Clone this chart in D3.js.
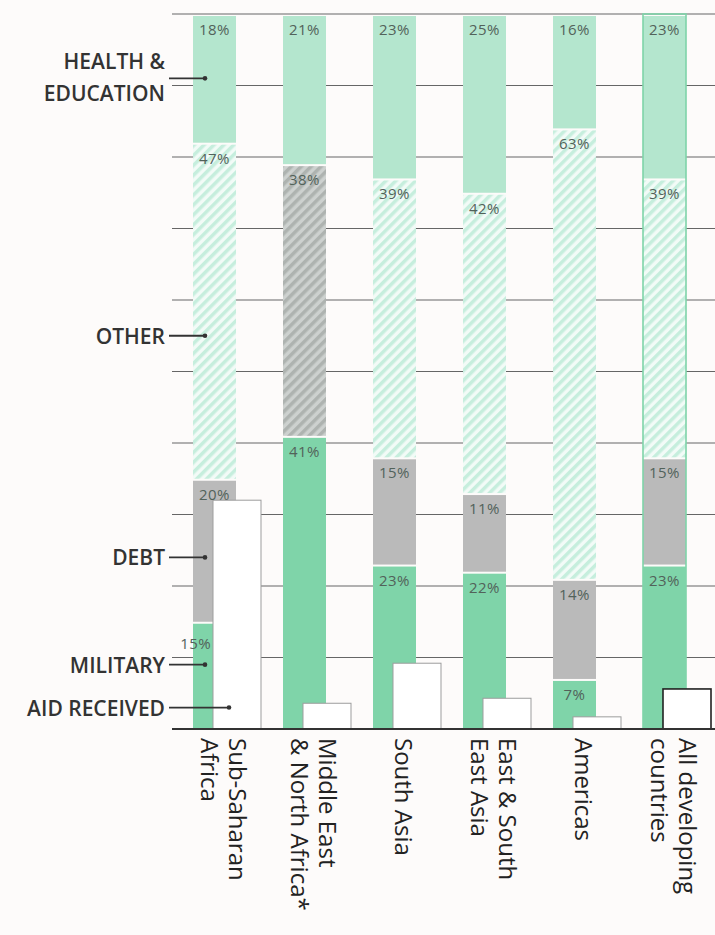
<!DOCTYPE html>
<html>
<head>
<meta charset="utf-8">
<script src="https://cdn.jsdelivr.net/npm/d3@7"></script>
<style>
  body { margin: 0; background: #fdfbfa; }
  svg { display: block; font-family: "Open Sans", sans-serif; }
</style>
</head>
<body>
<svg id="chart" width="715" height="935"></svg>
<script>
// regions, bottom labels split in lines
const categories = ["Sub-Saharan Africa", "Middle East & North Africa*", "South Asia",
  "East & South East Asia", "Americas", "All developing countries"];
const labelLines = [["Sub-Saharan", "Africa"], ["Middle East", "& North Africa*"], ["South Asia"],
  ["East & South", "East Asia"], ["Americas"], ["All developing", "countries"]];

// share of spending, % (stacked bottom to top)
const military = [15, 41, 23, 22, 7, 23];
const debt     = [20, 0, 15, 11, 14, 15];
const other    = [47, 38, 39, 42, 63, 39];
const health   = [18, 21, 23, 25, 16, 23];
// aid received, same scale (no labels in the original)
const aid      = [32, 3.6, 9.2, 4.3, 1.7, 5.6];
const otherShade = ["light", "gray", "light", "light", "light", "light"];

const gridTicks = d3.range(10, 101, 10);

// left-hand key: name and where its pointer sits (value on the y scale)
const keyNames = [["HEALTH &", "EDUCATION"], ["OTHER"], ["DEBT"], ["MILITARY"], ["AID RECEIVED"]];
const keyAt    = [91, 55, 24, 9, 3];
const keyIsAid = [false, false, false, false, true];

const svg = d3.select("#chart");
const W = 715;

const x = d3.scaleBand(categories, [193, 733]);
const y = d3.scaleLinear([0, 100], [729, 14]);
const barW = 43, aidOff = 20, aidW = 48, gap = 2;

const rows = categories.map((c, i) => ({
  cat: c, military: military[i], debt: debt[i], other: other[i], health: health[i]
}));
const keys = ["military", "debt", "other", "health"];
const series = d3.stack().keys(keys)(rows);

// hatching
const defs = svg.append("defs");
function hatch(id, base, stripe) {
  const p = defs.append("pattern").attr("id", id)
    .attr("patternUnits", "userSpaceOnUse").attr("width", 7).attr("height", 7)
    .attr("patternTransform", "rotate(45)");
  p.append("rect").attr("width", 7).attr("height", 7).attr("fill", base);
  p.append("rect").attr("width", 3.5).attr("height", 7).attr("fill", stripe);
}
hatch("hatchLight", "#f2fbf7", "#c6eedd");
hatch("hatchGray", "#cdd1cf", "#aeb3b0");

const fills = {
  military: () => "#7fd4a9",
  debt: () => "#bababa",
  other: i => otherShade[i] === "gray" ? "url(#hatchGray)" : "url(#hatchLight)",
  health: () => "#b4e6ce"
};

// grid
svg.append("g").selectAll("line").data(gridTicks).join("line")
  .attr("x1", 172).attr("x2", W)
  .attr("y1", d => y(d)).attr("y2", d => y(d))
  .attr("stroke", "#666").attr("stroke-width", 1.2);

// stacked bars
const gBars = svg.append("g");
series.forEach(s => {
  gBars.selectAll(null).data(s.filter(d => d[1] > d[0])).join("rect")
    .attr("x", d => x(d.data.cat))
    .attr("y", d => y(d[1]) + gap)
    .attr("width", barW)
    .attr("height", d => Math.max(0, y(d[0]) - y(d[1]) - gap))
    .attr("fill", d => fills[s.key](categories.indexOf(d.data.cat)));
});

// outline around the "all developing" column
svg.append("rect")
  .attr("x", x(categories[5])).attr("y", y(100))
  .attr("width", barW).attr("height", y(0) - y(100))
  .attr("fill", "none").attr("stroke", "#7fd4a9").attr("stroke-width", 1.6);

// aid bars
svg.append("g").selectAll("rect").data(aid).join("rect")
  .attr("x", (d, i) => x(categories[i]) + aidOff)
  .attr("y", d => y(d))
  .attr("width", aidW)
  .attr("height", d => y(0) - y(d))
  .attr("fill", "#fff")
  .attr("stroke", (d, i) => i === 5 ? "#222" : "#9d9d9d")
  .attr("stroke-width", (d, i) => i === 5 ? 1.6 : 1);

// axis baseline
svg.append("line").attr("x1", 172).attr("x2", W)
  .attr("y1", y(0)).attr("y2", y(0))
  .attr("stroke", "#333").attr("stroke-width", 2);

// percent labels
const gPct = svg.append("g").attr("font-size", 15).attr("fill", "#52625a")
  .attr("letter-spacing", 0.4);
series.forEach(s => {
  s.filter(d => d[1] > d[0]).forEach(d => {
    const i = categories.indexOf(d.data.cat);
    const by = y(d[1]) + 21;
    const hidden = by > y(aid[i]);   // label would sit under the aid bar
    gPct.append("text")
      .attr("x", hidden ? x(d.data.cat) + aidOff - 2 : x(d.data.cat) + barW / 2)
      .attr("y", hidden ? by + 6 : by)
      .attr("text-anchor", hidden ? "end" : "middle")
      .text(Math.round(d[1] - d[0]) + "%");
  });
});

// key on the left
const gKey = svg.append("g");
keyNames.forEach((lines, k) => {
  const ly = y(keyAt[k]);
  const dotX = keyIsAid[k] ? x(categories[0]) + aidOff + 16 : x(categories[0]) + 12;
  gKey.append("line").attr("x1", 169).attr("x2", dotX)
    .attr("y1", ly).attr("y2", ly).attr("stroke", "#333").attr("stroke-width", 1.8);
  gKey.append("circle").attr("cx", dotX).attr("cy", ly).attr("r", 2.3).attr("fill", "#333");
  const t = gKey.append("text").attr("text-anchor", "end")
    .attr("font-size", 21).attr("font-weight", 600).attr("fill", "#333");
  if (lines.length === 2) {
    t.append("tspan").attr("x", 165).attr("y", ly - 9).text(lines[0]);
    t.append("tspan").attr("x", 165).attr("y", ly + 23).text(lines[1]);
  } else {
    t.append("tspan").attr("x", 165).attr("y", ly + 8).text(lines[0]);
  }
});

// rotated category names
const lineGap = 28;
labelLines.forEach((lines, i) => {
  const cx = x(categories[i]) + 31;
  const g = svg.append("g").attr("transform", `translate(${cx},738) rotate(90)`);
  lines.forEach((ln, j) => {
    const center = (lines.length - 1) / 2 * lineGap - j * lineGap;  // screen x offset
    g.append("text")
      .attr("x", 0)
      .attr("y", -(center - 9))
      .attr("font-size", 24).attr("fill", "#222")
      .text(ln);
  });
});
</script>
</body>
</html>
